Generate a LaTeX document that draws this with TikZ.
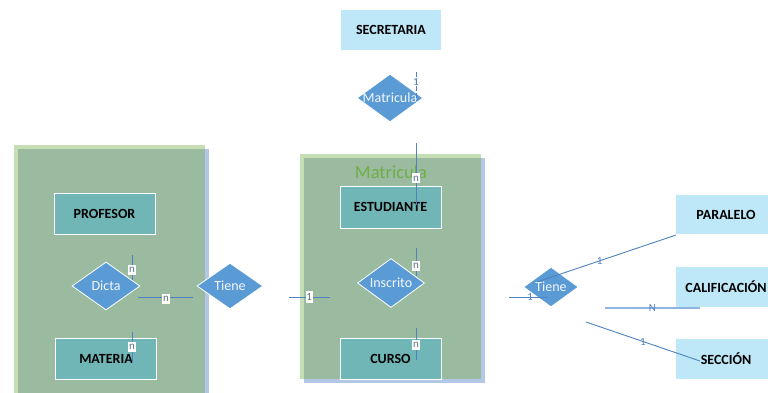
\documentclass[tikz,border=0pt]{standalone}
\usepackage{fontspec}
\setmainfont{Carlito}
\usetikzlibrary{shapes.geometric}

\definecolor{grpfill}{HTML}{9BBBA0}
\definecolor{grpedge}{HTML}{C5DEB3}
\definecolor{grpshadow}{HTML}{B4C7E7}
\definecolor{entfill}{HTML}{70B6B6}
\definecolor{relfill}{HTML}{5B9BD5}
\definecolor{extfill}{HTML}{BEE8F8}
\definecolor{linkblue}{HTML}{5081C0}
\definecolor{linklight}{HTML}{8DB4E2}
\definecolor{lbltext}{HTML}{5A6F8A}
\definecolor{titlegreen}{HTML}{70AD47}

\tikzset{
  entity/.style={draw=white, line width=0.8pt, fill=entfill, minimum width=101pt,
    minimum height=41pt, inner sep=0pt, font=\fontsize{14}{16}\selectfont\bfseries},
  extbox/.style={fill=extfill, minimum width=100pt, minimum height=40pt, inner sep=0pt,
    font=\fontsize{14}{16}\selectfont\bfseries},
  rel/.style={diamond, draw=white, line width=0.8pt, fill=relfill, inner sep=0pt},
  reltext/.style={text=white!92!relfill, font=\fontsize{14}{16}\selectfont},
  link/.style={draw=linkblue, line width=0.9pt},
  boxlbl/.style={fill=white, inner xsep=0.8pt, inner ysep=2.2pt, text=lbltext,
    font=\fontsize{11}{12}\selectfont},
  freelbl/.style={inner sep=0.5pt, text=linkblue, font=\fontsize{11}{12}\selectfont},
}

\begin{document}
\begin{tikzpicture}[x=1pt, y=-1pt]
\useasboundingbox (0,0) rectangle (768,392);

% grouping frames
\fill[grpshadow] (205,149) rectangle (209,400);
\fill[grpedge] (14,145) rectangle (205,400);
\fill[grpfill] (18,149) rectangle (205,400);

\fill[grpshadow] (304,158) rectangle (485,383);
\fill[grpedge] (300,154) rectangle (481,379);
\fill[grpfill] (304,158) rectangle (481,379);

\node[text=titlegreen, font=\fontsize{18.5}{20}\selectfont] (grptitle) at (391,172) {Matricula};

% entities
\node[extbox] (secretaria) at (391,29.5) {SECRETARIA};
\node[entity] (profesor) at (104.5,213.5) {PROFESOR};
\node[entity] (materia) at (106,358.5) {MATERIA};
\node[entity, minimum height=42pt] (estudiante) at (390.5,207) {ESTUDIANTE};
\node[entity] (curso) at (390.5,358.5) {CURSO};
\node[extbox, minimum height=39pt] (paralelo) at (726,214.5) {PARALELO};
\node[extbox] (calificacion) at (726,287) {CALIFICACIÓN};
\node[extbox] (seccion) at (726,359) {SECCIÓN};

% relationships
\node[rel, minimum width=66pt, minimum height=48pt,
  label={[reltext]center:Matricula}] (matricula) at (390,98) {};
\node[rel, minimum width=68pt, minimum height=48pt,
  label={[reltext]center:Dicta}] (dicta) at (106,286) {};
\node[rel, minimum width=66pt, minimum height=46pt,
  label={[reltext]center:Tiene}] (tieneA) at (230,286) {};
\node[rel, minimum width=67pt, minimum height=49pt,
  label={[reltext]center:Inscrito}] (inscrito) at (391,283) {};
\node[rel, minimum width=55pt, minimum height=40pt,
  label={[reltext]center:Tiene}] (tieneB) at (551,287) {};

% connector ends
\coordinate (s1) at (416,72);   \coordinate (s2) at (416,101);
\coordinate (e1) at (416,143);  \coordinate (e2) at (416,205);
\coordinate (i1) at (416,248);  \coordinate (i2) at (416,276);
\coordinate (c1) at (416,328);  \coordinate (c2) at (416,360);
\coordinate (g1) at (289,297);  \coordinate (g2) at (330,297);
\coordinate (d1) at (132,255);  \coordinate (d2) at (132,280);
\coordinate (h1) at (138,297);  \coordinate (h2) at (193,297);
\coordinate (m1) at (132,332);  \coordinate (m2) at (132,363);
\coordinate (r1) at (509,297);  \coordinate (r2) at (548,297);
\coordinate (p1) at (676,235);  \coordinate (p2) at (537,282);
\coordinate (n1) at (605,308);  \coordinate (n2) at (700,308);
\coordinate (q1) at (586,322);  \coordinate (q2) at (700,361);

% connectors with cardinalities
\draw[link, dash pattern=on 5pt off 2pt] (s1) -- node[pos=0.33, freelbl] {1} (s2);
\draw[link] (e1) -- node[pos=0.57, boxlbl] {n} (e2);
\draw[link] (i1) -- node[pos=0.64, boxlbl] {n} (i2);
\draw[link] (c1) -- node[pos=0.53, boxlbl] {n} (c2);
\draw[link] (g1) -- node[pos=0.49, boxlbl] {1} (g2);
\draw[link] (d1) -- node[pos=0.6, boxlbl] {n} (d2);
\draw[link] (h1) -- node[pos=0.51, boxlbl, yshift=-2pt] {n} (h2);
\draw[link] (m1) -- node[pos=0.48, boxlbl] {n} (m2);
\draw[link] (r1) -- node[pos=0.54, freelbl] {1} (r2);
\draw[link] (p1) -- node[pos=0.55, freelbl] {1} (p2);
\draw[draw=linklight, line width=1.4pt] (n1) -- node[pos=0.5, freelbl] {N} (n2);
\draw[link] (q1) -- node[pos=0.5, freelbl] {1} (q2);
\end{tikzpicture}
\end{document}
